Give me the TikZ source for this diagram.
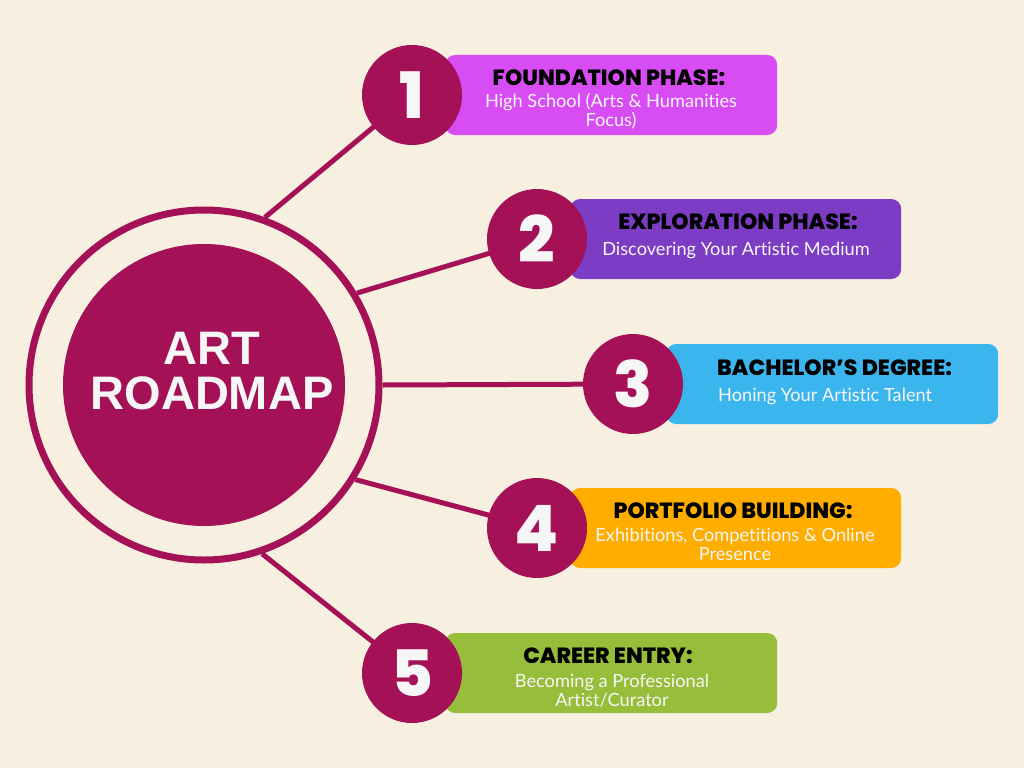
\documentclass[tikz,border=0pt]{standalone}
\usepackage{fontspec}
\setmainfont{Lato}[Ligatures={NoCommon}]
\newfontfamily\hubfont{Liberation Sans}
\newfontfamily\popfont{Poppins}[UprightFont={* ExtraBold}]
\definecolor{cream}{RGB}{247,240,225}
\definecolor{maroon}{RGB}{165,17,86}
\definecolor{offwhite}{RGB}{246,246,246}
\definecolor{phaseA}{RGB}{216,76,244}
\definecolor{phaseB}{RGB}{124,60,196}
\definecolor{phaseC}{RGB}{59,181,238}
\definecolor{phaseD}{RGB}{255,174,0}
\definecolor{phaseE}{RGB}{151,190,58}
\tikzset{
  link/.style={draw=maroon, line width=5pt},
  numdisc/.style={circle, fill=maroon, minimum size=100pt, inner sep=0pt, text=offwhite,
    font=\popfont\fontsize{64}{64}\selectfont},
  phasebox/.style={rounded corners=10pt, minimum height=80pt, inner sep=0pt, anchor=west},
  ttl/.style={anchor=base, inner sep=0pt, text=black, font=\popfont\fontsize{22}{24}\selectfont},
  sub/.style={anchor=base, inner sep=0pt, text=offwhite, font=\fontsize{18.2}{20}\selectfont}
}
\begin{document}
\begin{tikzpicture}[x=1pt,y=-1pt]
\useasboundingbox (0,0) rectangle (1024,768);
\fill[cream] (0,0) rectangle (1024,768);

% central hub
\node[circle, draw=maroon, line width=7pt, minimum size=350pt, inner sep=0pt] (ring) at (204,385) {};
\node[circle, fill=maroon, minimum size=282pt, inner sep=0pt] (hub) at (204,385) {};
\node[align=center, text=offwhite, inner sep=0pt,
  font=\hubfont\bfseries\fontsize{47}{45}\selectfont] (hublabel) at (212,371) {ART\\ROADMAP};

% step centres
\coordinate (c1) at (412,95);
\coordinate (c2) at (537,239);
\coordinate (c3) at (633,384);
\coordinate (c4) at (537,528);
\coordinate (c5) at (412,673);

% spokes
\draw[link] (ring.70) -- (c1);
\draw[link] (ring.31) -- (c2);
\draw[link] (ring.0) -- (c3);
\draw[link] (ring.-32) -- (c4);
\draw[link] (ring.-71) -- (c5);

% phase boxes
\node[phasebox, fill=phaseA, minimum width=332pt] (b1) at (445,95) {};
\node[phasebox, fill=phaseB, minimum width=331pt] (b2) at (570,239) {};
\node[phasebox, fill=phaseC, minimum width=332pt] (b3) at (666,384) {};
\node[phasebox, fill=phaseD, minimum width=331pt] (b4) at (570,528) {};
\node[phasebox, fill=phaseE, minimum width=332pt] (b5) at (445,673) {};

% numbered discs
\node[numdisc] (n1) at (c1) {1};
\node[numdisc] (n2) at (c2) {2};
\node[numdisc] (n3) at (c3) {3};
\node[numdisc] (n4) at (c4) {4};
\node[numdisc] (n5) at (c5) {5};

% texts
\node[ttl] (t1) at (609,85) {FOUNDATION PHASE:};
\node[sub] (s1a) at (611,107) {High School (Arts \& Humanities};
\node[sub] (s1b) at (611,126) {Focus)};

\node[ttl] (t2) at (738,229) {EXPLORATION PHASE:};
\node[sub] (s2a) at (736,255) {Discovering Your Artistic Medium};

\node[ttl, anchor=base west] (t3) at (717,375) {BACHELOR’S DEGREE:};
\node[sub, anchor=base west] (s3a) at (718,401) {Honing Your Artistic Talent};

\node[ttl] (t4) at (733,518) {PORTFOLIO BUILDING:};
\node[sub] (s4a) at (735,541) {Exhibitions, Competitions \& Online};
\node[sub] (s4b) at (735,560) {Presence};

\node[ttl] (t5) at (608,663) {CAREER ENTRY:};
\node[sub] (s5a) at (612,687) {Becoming a Professional};
\node[sub] (s5b) at (612,706) {Artist/Curator};
\end{tikzpicture}
\end{document}
